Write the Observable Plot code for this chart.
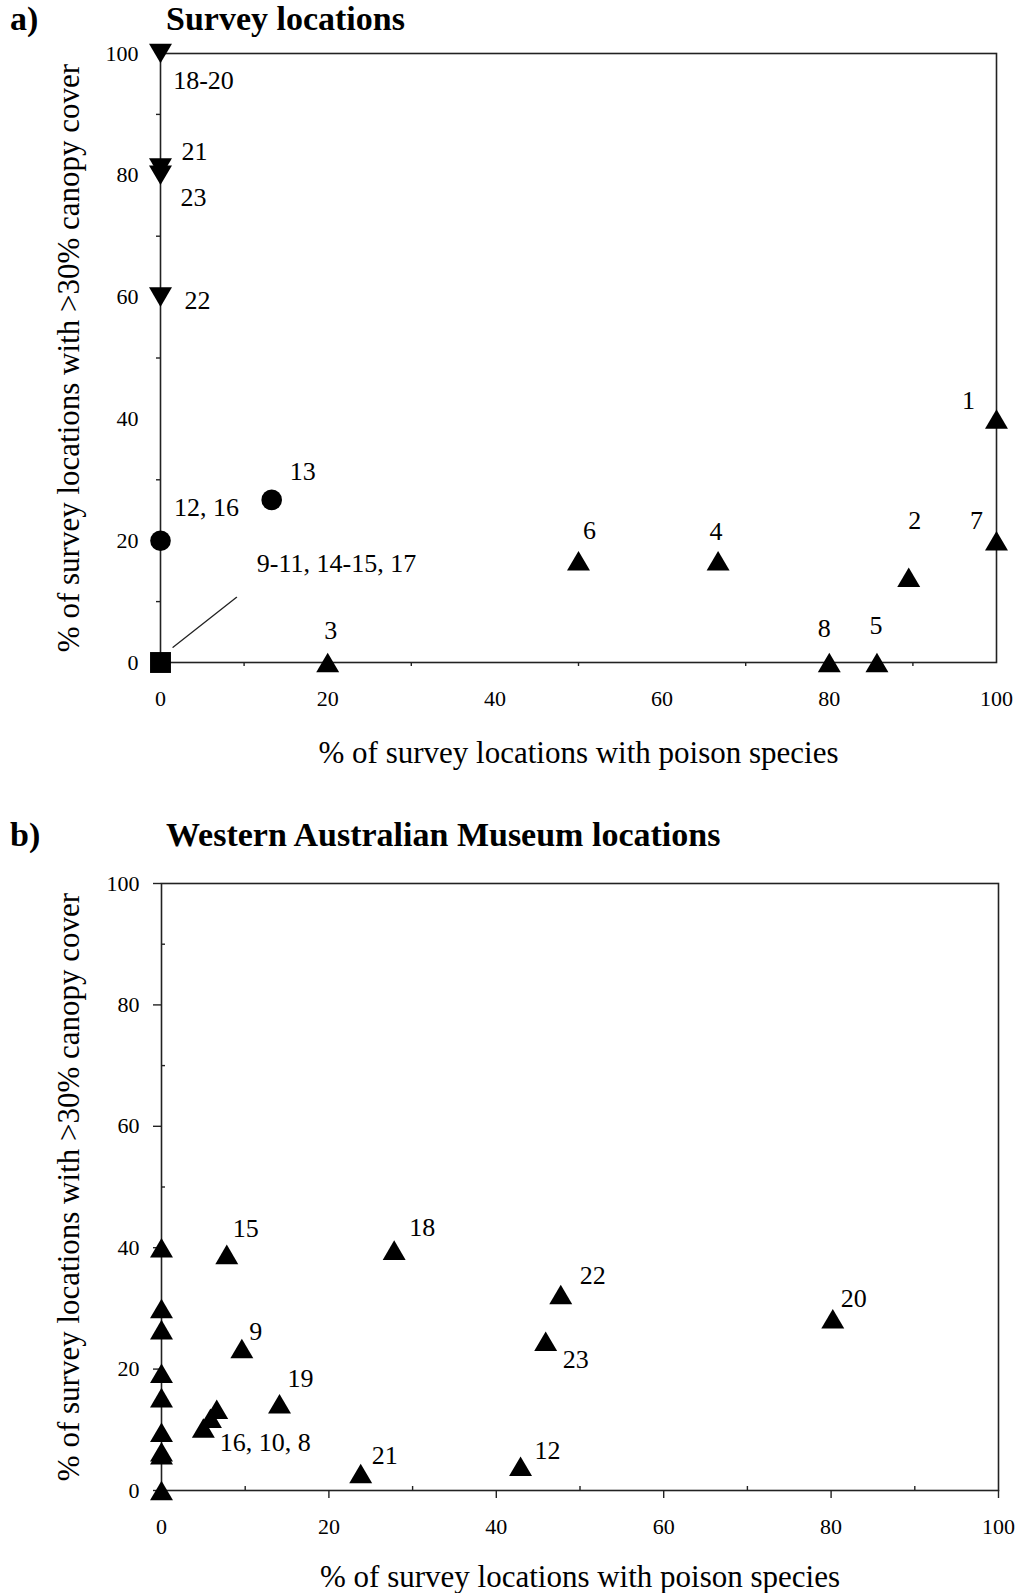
<!DOCTYPE html>
<html><head><meta charset="utf-8">
<script src="https://cdn.jsdelivr.net/npm/d3@7"></script>
<script src="https://cdn.jsdelivr.net/npm/@observablehq/plot@0.6"></script>
<style>
html,body{margin:0;padding:0;background:#fff;}
body{width:1018px;height:1593px;overflow:hidden;position:relative;font-family:"Liberation Serif","Times New Roman",serif;}
.ttl{position:absolute;z-index:2;font-weight:bold;font-size:34px;line-height:34px;white-space:nowrap;color:#000;}
.panel{position:absolute;left:0;}
</style></head><body>
<div id="pa" class="panel" style="top:0"></div>
<div id="pb" class="panel" style="top:800px"></div>
<div class="ttl" style="left:10px;top:2px">a)</div>
<div class="ttl" style="left:166px;top:2px">Survey locations</div>
<div class="ttl" style="left:10px;top:818px">b)</div>
<div class="ttl" style="left:166px;top:818px">Western Australian Museum locations</div>
<script>
// ---------- DATA ----------
// Panel a: survey locations
const aLabel  = ["1","2","3","4","5","6","7","8","9-11, 14-15, 17","12, 16","13","18-20","21","23","22"];
const aPoison = [100, 89.5, 20, 66.7, 85.7, 50, 100, 80, 0, 0, 13.3, 0, 0, 0, 0];
const aCanopy = [40, 14, 0, 16.7, 0, 16.7, 20, 0, 0, 20, 26.7, 100, 81.2, 80, 60];
const aMarker = ["up","up","up","up","up","up","up","up","square","circle","circle","down","down","down","down"];
const aLeaderX = [1.5, 9.1];
const aLeaderY = [2.5, 10.7];

// Panel b: Western Australian Museum locations
const bLabel  = ["15","18","22","20","23","9","19","","","16, 10, 8","21","12","","","","","","","","",""];
const bPoison = [7.8, 27.8, 47.7, 80.2, 45.9, 9.6, 14.1, 6.6, 5.85, 5.0, 23.8, 42.9, 0, 0, 0, 0, 0, 0, 0, 0, 0];
const bCanopy = [38.9, 39.6, 32.3, 28.3, 24.6, 23.4, 14.3, 13.4, 11.9, 10.3, 2.8, 4.0, 40, 30, 26.5, 19.3, 15.3, 9.6, 6.4, 5.9, 0];

const xMajor = [0, 20, 40, 60, 80, 100];
const xMinor = [10, 30, 50, 70, 90];
const yMajor = [0, 20, 40, 60, 80, 100];
const yMinor = [10, 30, 50, 70, 90];
const xTitle = "% of survey locations with poison species";
const yTitle = "% of survey locations with >30% canopy cover";

// ---------- STYLE (label offsets in px) ----------
const aLabelOffset = {"1":[-28,-18],"2":[6,-57],"3":[3,-32],"4":[-2,-29],"5":[-1,-37],"6":[11,-30],"7":[-20,-20],"8":[-5,-34],
  "9-11, 14-15, 17":[176,-99],"12, 16":[46,-33],"13":[31,-28],"18-20":[43,27],"21":[34,-16],"23":[33,22],"22":[37,4]};
const bLabelOffset = {"15":[19,-26],"18":[28,-22],"22":[32,-19],"20":[21,-20],"23":[30,18],"9":[14,-17],"19":[21,-25],
  "16, 10, 8":[62,15],"21":[24,-18],"12":[27,-16]};

const F = "Liberation Serif";
const INK = "#000";
const AX = "#222";
const UP = {draw(ctx, size){const r=Math.sqrt(size/Math.PI),hw=r*1.35,hh=r*1.15;ctx.moveTo(0,-hh);ctx.lineTo(hw,hh);ctx.lineTo(-hw,hh);ctx.closePath();}};
const DOWN = {draw(ctx, size){const r=Math.sqrt(size/Math.PI),hw=r*1.35,hh=r*1.15;ctx.moveTo(0,hh);ctx.lineTo(hw,-hh);ctx.lineTo(-hw,-hh);ctx.closePath();}};

const aRows = aLabel.map((label,i)=>({label, x:aPoison[i], y:aCanopy[i], m:aMarker[i]}));
const bRows = bLabel.map((label,i)=>({label, x:bPoison[i], y:bCanopy[i]}));
const leader = aLeaderX.map((x,i)=>({x, y:aLeaderY[i]}));

function labelMarks(rows, offsets, size){
  return rows.filter(d=>d.label).map(d=>{
    const o = offsets[d.label] || [0,0];
    return Plot.text([d], {x:"x", y:"y", text:"label", dx:o[0], dy:o[1], fontSize:size, fill:INK});
  });
}

// Panel a
const aW = 1018 - 160 - 22, aH = 790 - 53 - 128;
const pa = Plot.plot({
  width:1018, height:790, marginTop:53, marginLeft:160, marginRight:22, marginBottom:128,
  style:{fontFamily:F, fontSize:"22px", color:INK, background:"#fff", overflow:"visible"},
  x:{domain:[0,100], label:null}, y:{domain:[0,100], label:null},
  marks:[
    Plot.frame({stroke:AX, strokeWidth:1.6}),
    Plot.axisX({ticks:xMajor, tickSize:0, tickPadding:28, label:null}),
    Plot.axisX({ticks:xMinor, tickSize:4, tickFormat:()=>"", label:null, stroke:AX, strokeWidth:1.4}),
    Plot.axisY({ticks:yMajor, tickSize:0, tickPadding:22, label:null}),
    Plot.axisY({ticks:yMinor, tickSize:4, tickFormat:()=>"", label:null, stroke:AX, strokeWidth:1.4}),
    Plot.text([xTitle], {text:d=>d, frameAnchor:"middle", dy:aH/2+91, fontSize:31, fill:INK}),
    Plot.text([yTitle], {text:d=>d, frameAnchor:"middle", dx:-(aW/2)-91, rotate:-90, fontSize:31, fill:INK}),
    Plot.line(leader, {x:"x", y:"y", stroke:AX, strokeWidth:1.3}),
    Plot.dot(aRows.filter(d=>d.m==="up"), {x:"x", y:"y", symbol:UP, r:8.5, fill:INK, stroke:null}),
    Plot.dot(aRows.filter(d=>d.m==="down"), {x:"x", y:"y", symbol:DOWN, r:8.5, fill:INK, stroke:null}),
    Plot.dot(aRows.filter(d=>d.m==="circle"), {x:"x", y:"y", symbol:"circle", r:10.3, fill:INK, stroke:null}),
    Plot.dot(aRows.filter(d=>d.m==="square"), {x:"x", y:"y", symbol:"square", r:11.8, fill:INK, stroke:null}),
    ...labelMarks(aRows, aLabelOffset, 26)
  ]
});
document.getElementById("pa").appendChild(pa);

// Panel b
const bW = 1018 - 161 - 20, bH = 793 - 83 - 103;
const pb = Plot.plot({
  width:1018, height:793, marginTop:83, marginLeft:161, marginRight:20, marginBottom:103,
  style:{fontFamily:F, fontSize:"22px", color:INK, background:"#fff", overflow:"visible"},
  x:{domain:[0,100], label:null}, y:{domain:[0,100], label:null},
  marks:[
    Plot.frame({stroke:AX, strokeWidth:1.6}),
    Plot.axisX({ticks:xMajor, tickSize:8, tickPadding:20, label:null, stroke:AX, strokeWidth:1.4}),
    Plot.tickX(xMinor, {x:d=>d, insetTop:bH-4, stroke:AX, strokeWidth:1.4}),
    Plot.axisY({ticks:yMajor, tickSize:8, tickPadding:14, label:null, stroke:AX, strokeWidth:1.4}),
    Plot.tickY(yMinor, {y:d=>d, insetRight:bW-4, stroke:AX, strokeWidth:1.4}),
    Plot.text([xTitle], {text:d=>d, frameAnchor:"middle", dy:bH/2+87, fontSize:31, fill:INK}),
    Plot.text([yTitle], {text:d=>d, frameAnchor:"middle", dx:-(bW/2)-92, rotate:-90, fontSize:31, fill:INK}),
    Plot.dot(bRows, {x:"x", y:"y", symbol:UP, r:8.5, fill:INK, stroke:null}),
    ...labelMarks(bRows, bLabelOffset, 26)
  ]
});
document.getElementById("pb").appendChild(pb);
</script>
</body></html>
